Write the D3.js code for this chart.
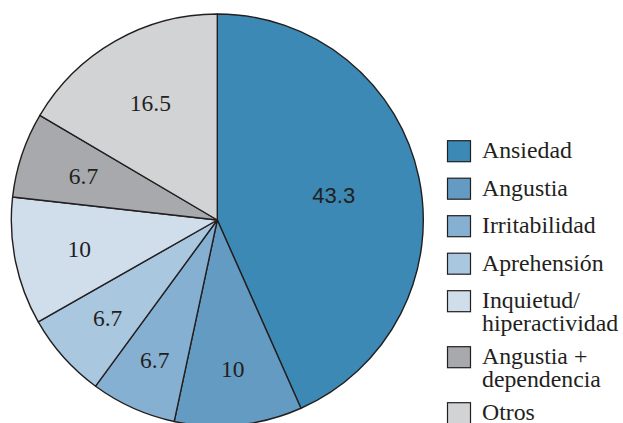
<!DOCTYPE html>
<html><head><meta charset="utf-8">
<script src="https://cdn.jsdelivr.net/npm/d3@7"></script>
<style>
html,body{margin:0;padding:0;background:#fff;}svg{display:block;}
.serif{font-family:"Liberation Serif","Times New Roman",Times,serif;}
.sans{font-family:"Liberation Sans",Arial,Helvetica,sans-serif;}
</style>
</head><body>
<svg id="c" width="623" height="423"></svg>
<script>
const categories = ["Ansiedad","Angustia","Irritabilidad","Aprehensión","Inquietud/\nhiperactividad","Angustia +\ndependencia","Otros"];
const values = [43.3, 10, 6.7, 6.7, 10, 6.7, 16.5];
const valueLabels = ["43.3","10","6.7","6.7","10","6.7","16.5"];
const colors = ["#3b89b4","#649bc3","#86b0d2","#aac7e0","#d0deec","#a8a9ac","#d2d3d5"];

// layout
const cx = 217.3, cy = 220, R = 206;
const labelR = [119, 150, 153, 147, 141, 141, 135];
const labelClass = ["sans","serif","serif","serif","serif","serif","serif"];

const svg = d3.select("#c");
const data = categories.map((c,i)=>({cat:c, v:values[i], lab:valueLabels[i], col:colors[i], i}));
const pie = d3.pie().value(d=>d.v).sort(null);
const arcs = pie(data);
const arc = d3.arc().innerRadius(0).outerRadius(R);
const g = svg.append("g").attr("transform",`translate(${cx},${cy})`);
g.selectAll("path").data(arcs).join("path")
  .attr("d",arc).attr("fill",d=>d.data.col)
  .attr("stroke","#231f20").attr("stroke-width",1.4).attr("stroke-linejoin","round");

g.selectAll("text").data(arcs).join("text")
  .attr("class",d=>labelClass[d.data.i])
  .attr("transform",d=>{
    const a=(d.startAngle+d.endAngle)/2, r=labelR[d.data.i];
    return `translate(${r*Math.sin(a)},${-r*Math.cos(a)})`;
  })
  .attr("text-anchor","middle").attr("dy","0.35em")
  .style("font-size",d=>d.data.i===0?"22px":"23.5px")
  .attr("fill","#231f20")
  .text(d=>d.data.lab);

// legend
const lg = svg.append("g");
let y = 140.7;
data.forEach(d=>{
  const lines = d.cat.split("\n");
  lg.append("rect").attr("x",447.5).attr("y",y).attr("width",23).attr("height",21)
    .attr("fill",d.col).attr("stroke","#231f20").attr("stroke-width",1.2);
  const t = lg.append("text").attr("class","serif").attr("x",482).attr("y",y+17.6)
    .style("font-size","23.8px").attr("fill","#231f20");
  lines.forEach((ln,k)=>t.append("tspan").attr("x",482).attr("dy",k===0?0:23).text(ln));
  y += 37.5 + (lines.length-1)*18.5;
});
</script>
</body></html>
